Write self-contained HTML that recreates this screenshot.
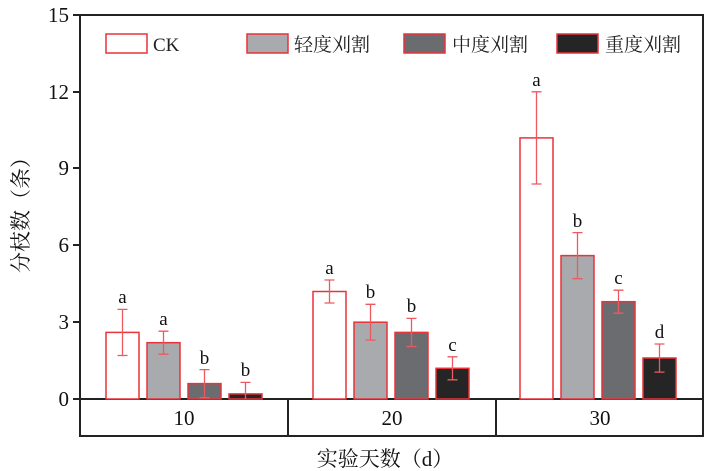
<!DOCTYPE html>
<html><head><meta charset="utf-8"><style>body{margin:0;background:#fff}svg{display:block}</style></head>
<body>
<svg width="705" height="471" xmlns="http://www.w3.org/2000/svg" font-family="'Liberation Serif','Noto Serif CJK SC',serif">
<rect x="80" y="15" width="623" height="421" fill="none" stroke="#222" stroke-width="2"/>
<g stroke="#222" stroke-width="2">
<line x1="80" y1="399" x2="703" y2="399"/>
<line x1="288" y1="399" x2="288" y2="436"/>
<line x1="496" y1="399" x2="496" y2="436"/>
<line x1="73" y1="15" x2="80" y2="15"/><line x1="73" y1="92" x2="80" y2="92"/><line x1="73" y1="168" x2="80" y2="168"/><line x1="73" y1="245" x2="80" y2="245"/><line x1="73" y1="322" x2="80" y2="322"/><line x1="73" y1="399" x2="80" y2="399"/>
</g>
<g font-size="21" text-anchor="end" fill="#111">
<text x="69" y="22">15</text><text x="69" y="99">12</text><text x="69" y="175">9</text><text x="69" y="252">6</text><text x="69" y="329">3</text><text x="69" y="406">0</text>
</g>
<g font-size="21" text-anchor="middle" fill="#111">
<text x="184" y="425">10</text><text x="392" y="425">20</text><text x="600" y="425">30</text>
</g>
<text x="385" y="466" font-size="21" text-anchor="middle" fill="#111">实验天数（d）</text>
<text transform="translate(28,210) rotate(-90)" font-size="21" text-anchor="middle" fill="#111">分枝数（条）</text>
<g stroke="#e8333a" stroke-width="1.5">
<rect x="106" y="34" width="41" height="19" fill="#fff"/>
<rect x="247" y="34" width="41" height="19" fill="#a9aaad"/>
<rect x="404" y="34" width="41" height="19" fill="#6b6c70"/>
<rect x="557" y="34" width="41" height="19" fill="#252525"/>
</g>
<g font-size="19" fill="#222">
<text x="153" y="51">CK</text><text x="294" y="51">轻度刈割</text><text x="452" y="51">中度刈割</text><text x="605" y="51">重度刈割</text>
</g>
<g stroke="#e8333a" stroke-width="1.5">
<rect x="106" y="332.4" width="33" height="66.6" fill="#fff"/>
<rect x="147" y="342.7" width="33" height="56.3" fill="#a9aaad"/>
<rect x="188" y="383.6" width="33" height="15.4" fill="#6b6c70"/>
<rect x="229" y="393.9" width="33" height="5.1" fill="#252525"/>
<rect x="313" y="291.5" width="33" height="107.5" fill="#fff"/>
<rect x="354" y="322.2" width="33" height="76.8" fill="#a9aaad"/>
<rect x="395" y="332.4" width="33" height="66.6" fill="#6b6c70"/>
<rect x="436" y="368.3" width="33" height="30.7" fill="#252525"/>
<rect x="520" y="137.9" width="33" height="261.1" fill="#fff"/>
<rect x="561" y="255.6" width="33" height="143.4" fill="#a9aaad"/>
<rect x="602" y="301.7" width="33" height="97.3" fill="#6b6c70"/>
<rect x="643" y="358" width="33" height="41" fill="#252525"/>
</g>
<g stroke="#ec5a60" stroke-width="1.3">
<path d="M122.5 309.4V355.5M117.5 309.4h10M117.5 355.5h10"/>
<path d="M163.5 331.2V354.2M158.5 331.2h10M158.5 354.2h10"/>
<path d="M204.5 369.6V397.7M199.5 369.6h10M199.5 397.7h10"/>
<path d="M245.5 382.4V399M240.5 382.4h10"/>
<path d="M329.5 280V303M324.5 280h10M324.5 303h10"/>
<path d="M370.5 304.3V340.1M365.5 304.3h10M365.5 340.1h10"/>
<path d="M411.5 318.4V346.5M406.5 318.4h10M406.5 346.5h10"/>
<path d="M452.5 356.8V379.8M447.5 356.8h10M447.5 379.8h10"/>
<path d="M536.5 91.8V184M531.5 91.8h10M531.5 184h10"/>
<path d="M577.5 232.6V278.7M572.5 232.6h10M572.5 278.7h10"/>
<path d="M618.5 290.2V313.2M613.5 290.2h10M613.5 313.2h10"/>
<path d="M659.5 344V372.1M654.5 344h10M654.5 372.1h10"/>
</g>
<g font-size="19" text-anchor="middle" fill="#111">
<text x="122.5" y="303">a</text><text x="163.5" y="325">a</text><text x="204.5" y="364">b</text><text x="245.5" y="376">b</text>
<text x="329.5" y="274">a</text><text x="370.5" y="298">b</text><text x="411.5" y="312">b</text><text x="452.5" y="351">c</text>
<text x="536.5" y="86">a</text><text x="577.5" y="227">b</text><text x="618.5" y="284">c</text><text x="659.5" y="338">d</text>
</g>
</svg>
</body></html>
